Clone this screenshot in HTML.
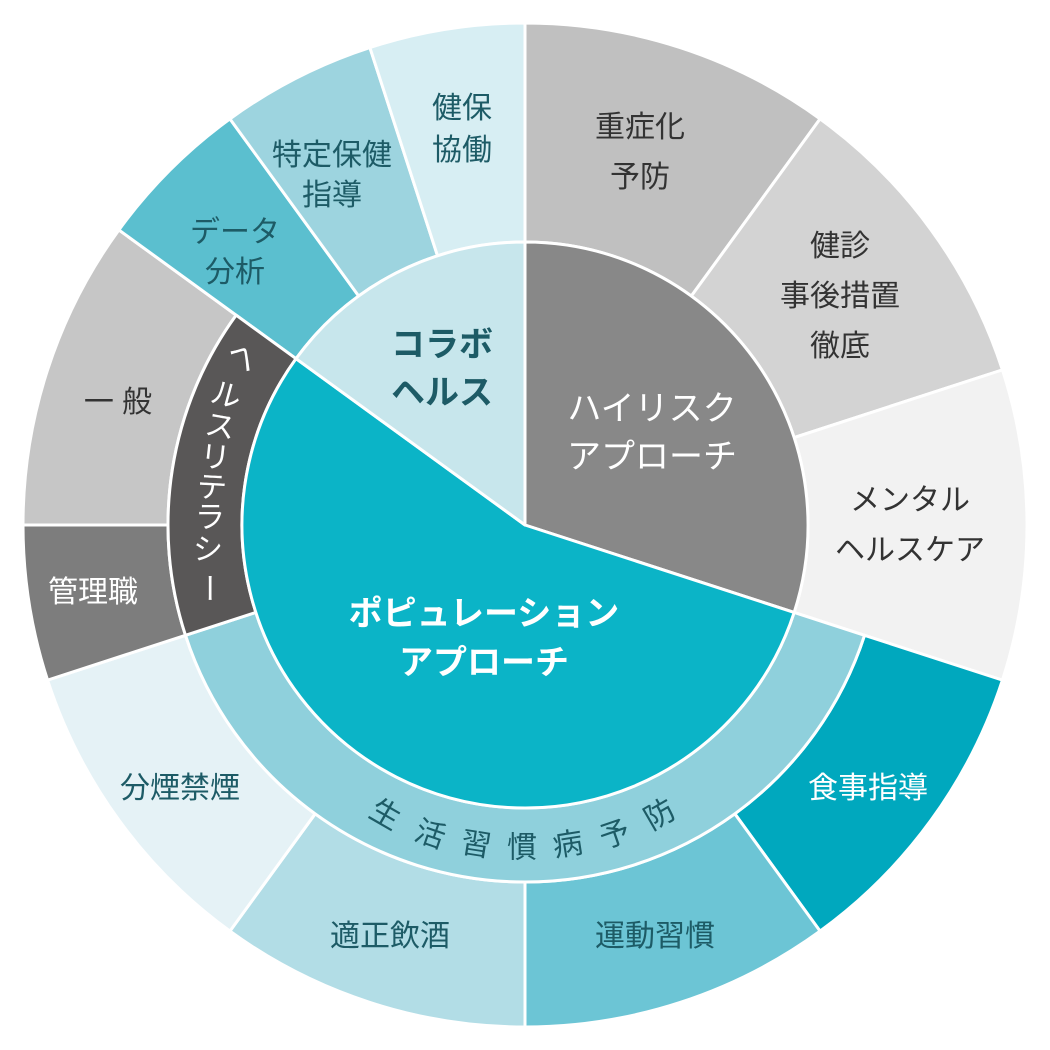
<!DOCTYPE html>
<html><head><meta charset="utf-8"><style>
html,body{margin:0;padding:0;background:#fff}
svg{display:block}
text{font-family:"Liberation Sans","Noto Sans CJK JP",sans-serif}
</style></head><body>
<svg id="s" width="1050" height="1050" viewBox="0 0 1050 1050" xmlns="http://www.w3.org/2000/svg">
<g id="segs"></g>
<g font-size="30" text-anchor="middle" fill="#333">
<text x="640" y="137">重症化</text><text x="640" y="187">予防</text>
<text x="840" y="256">健診</text><text x="840" y="306">事後措置</text><text x="840" y="356">徹底</text>
<text x="910" y="510">メンタル</text><text x="910" y="560">ヘルスケア</text>
<text x="868" y="798" fill="#fff">食事指導</text>
<text x="655" y="946" fill="#1d5b66">運動習慣</text>
<text x="390" y="946" fill="#1d5b66">適正飲酒</text>
<text x="180" y="798" fill="#1d5b66">分煙禁煙</text>
<text x="93" y="602" fill="#fff">管理職</text>
<text x="118" y="412">一 般</text>
<text x="235" y="242" fill="#1d5b66">データ</text><text x="235" y="282" fill="#1d5b66">分析</text>
<text x="332" y="165" fill="#1d5b66">特定保健</text><text x="332" y="205" fill="#1d5b66">指導</text>
<text x="462" y="118" fill="#1d5b66">健保</text><text x="462" y="160" fill="#1d5b66">協働</text>
</g>
<g font-size="34" text-anchor="middle" font-weight="bold">
<text x="442" y="356" fill="#1d5b66">コラボ</text><text x="442" y="404" fill="#1d5b66">ヘルス</text>
<text x="652" y="420" fill="#fff" font-weight="normal">ハイリスク</text><text x="652" y="468" fill="#fff" font-weight="normal">アプローチ</text>
<text x="484" y="625" fill="#fff">ポピュレーション</text><text x="484" y="674" fill="#fff">アプローチ</text>
</g>
<g font-size="30" text-anchor="middle" fill="#1d5b66" dominant-baseline="central">
<text transform="translate(385,815) rotate(30)">生</text>
<text transform="translate(430,835) rotate(19)">活</text>
<text transform="translate(476,845) rotate(9)">習</text>
<text transform="translate(522,848)">慣</text>
<text transform="translate(568,845) rotate(-9)">病</text>
<text transform="translate(615,835) rotate(-19)">予</text>
<text transform="translate(660,815) rotate(-30)">防</text>
</g>
<g font-size="30" text-anchor="middle" fill="#fff" dominant-baseline="central">
<text transform="translate(242,358) rotate(35)">ヘ</text>
<text transform="translate(226,396) rotate(15)">ル</text>
<text transform="translate(220,427) rotate(10)">ス</text>
<text transform="translate(215,458) rotate(6)">リ</text>
<text transform="translate(212,488) rotate(3)">テ</text>
<text transform="translate(210,518)">ラ</text>
<text transform="translate(208,550)">シ</text>
<text transform="translate(208,588) rotate(90)">ー</text>
</g>
</svg>
<script>
var cx=525,cy=525,NS="http://www.w3.org/2000/svg";
function pt(r,a){a=a*Math.PI/180;return [cx+r*Math.sin(a),cy-r*Math.cos(a)];}
function seg(r1,r2,a1,a2,c){
 var p1=pt(r2,a1),p2=pt(r2,a2),p3=pt(r1,a2),p4=pt(r1,a1),L=(a2-a1)>180?1:0,d;
 if(r1==0){d="M"+cx+","+cy+"L"+p1+"A"+r2+","+r2+" 0 "+L+" 1 "+p2+"Z";}
 else d="M"+p1+"A"+r2+","+r2+" 0 "+L+" 1 "+p2+"L"+p3+"A"+r1+","+r1+" 0 "+L+" 0 "+p4+"Z";
 var e=document.createElementNS(NS,"path");e.setAttribute("d",d);e.setAttribute("fill",c);
 e.setAttribute("stroke","#fff");e.setAttribute("stroke-width","3");e.setAttribute("stroke-linejoin","round");
 document.getElementById("segs").appendChild(e);}
var A=283,B=357,R=502;
seg(A,R,0,36,"#c0c0c0");seg(A,R,36,72,"#d3d3d3");seg(A,R,72,108,"#f2f2f2");
seg(B,R,108,144,"#00a8be");seg(B,R,144,180,"#6cc5d5");seg(B,R,180,216,"#b2dde6");seg(B,R,216,252,"#e5f2f6");
seg(B,R,252,270,"#7d7d7d");seg(B,R,270,306,"#c6c6c6");
seg(A,R,306,324,"#5bbfcf");seg(A,R,324,342,"#9dd4df");seg(A,R,342,360,"#d7eef3");
seg(A,B,108,252,"#8fd0dc");seg(A,B,252,306,"#595757");
seg(0,A,0,108,"#888888");seg(0,A,108,306,"#0bb4c7");seg(0,A,306,360,"#c7e6ec");
</script>
</body></html>
